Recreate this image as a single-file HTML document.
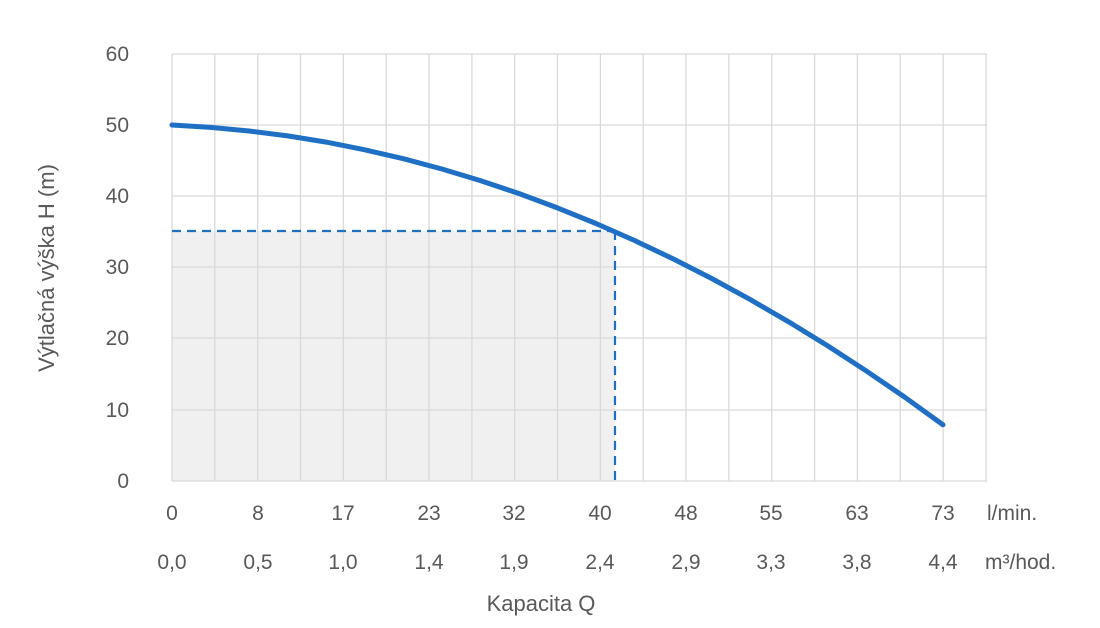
<!DOCTYPE html>
<html><head><meta charset="utf-8"><style>
body{margin:0;background:#fff;}
svg text{font-family:"Liberation Sans",sans-serif;fill:#595959;}
</style></head><body>
<svg width="1100" height="623" xmlns="http://www.w3.org/2000/svg">
<rect x="172" y="231" width="443" height="250" fill="#f0f0f0"/>
<g stroke="#d9d9d9" stroke-width="1.3">
<line x1="172" y1="54" x2="987" y2="54"/>
<line x1="172" y1="125" x2="987" y2="125"/>
<line x1="172" y1="196" x2="987" y2="196"/>
<line x1="172" y1="267" x2="987" y2="267"/>
<line x1="172" y1="338" x2="987" y2="338"/>
<line x1="172" y1="410" x2="987" y2="410"/>
<line x1="172" y1="481" x2="987" y2="481"/>
<line x1="172" y1="54" x2="172" y2="481"/><line x1="214.8" y1="54" x2="214.8" y2="481"/><line x1="257.7" y1="54" x2="257.7" y2="481"/><line x1="300.5" y1="54" x2="300.5" y2="481"/><line x1="343.4" y1="54" x2="343.4" y2="481"/><line x1="386.2" y1="54" x2="386.2" y2="481"/><line x1="429" y1="54" x2="429" y2="481"/><line x1="471.9" y1="54" x2="471.9" y2="481"/><line x1="514.7" y1="54" x2="514.7" y2="481"/><line x1="557.5" y1="54" x2="557.5" y2="481"/><line x1="600.4" y1="54" x2="600.4" y2="481"/><line x1="643.2" y1="54" x2="643.2" y2="481"/><line x1="686" y1="54" x2="686" y2="481"/><line x1="728.9" y1="54" x2="728.9" y2="481"/><line x1="771.7" y1="54" x2="771.7" y2="481"/><line x1="814.6" y1="54" x2="814.6" y2="481"/><line x1="857.4" y1="54" x2="857.4" y2="481"/><line x1="900.2" y1="54" x2="900.2" y2="481"/><line x1="943.1" y1="54" x2="943.1" y2="481"/><line x1="986" y1="54" x2="986" y2="481"/>
</g>
<g stroke="#1f6fc5" stroke-width="2.2" stroke-dasharray="9,6" fill="none">
<line x1="172" y1="231" x2="615" y2="231"/>
<line x1="615" y1="231" x2="615" y2="481"/>
</g>
<polyline fill="none" stroke="#1f6fc5" stroke-width="5" stroke-linecap="round" stroke-linejoin="round"
points="172,125 210.6,127.4 249.1,131 287.7,135.9 326.2,142.1 364.8,149.8 403.3,158.7 441.9,169 480.4,180.6 518.9,193.5 557.5,207.9 596,223.5 634.6,240.5 673.2,258.9 711.7,278.5 750.3,299.6 788.8,321.9 827.4,345.6 865.9,370.7 904.5,397 943,424.8"/>
<g font-size="21" text-anchor="end">
<text x="129" y="61">60</text><text x="129" y="132">50</text><text x="129" y="203">40</text><text x="129" y="274">30</text><text x="129" y="345">20</text><text x="129" y="417">10</text><text x="129" y="488">0</text>
</g>
<g font-size="21" text-anchor="middle">
<text x="172" y="520">0</text><text x="258" y="520">8</text><text x="343" y="520">17</text><text x="429" y="520">23</text><text x="514" y="520">32</text><text x="600" y="520">40</text><text x="686" y="520">48</text><text x="771" y="520">55</text><text x="857" y="520">63</text><text x="943" y="520">73</text>
<text x="172" y="569">0,0</text><text x="258" y="569">0,5</text><text x="343" y="569">1,0</text><text x="429" y="569">1,4</text><text x="514" y="569">1,9</text><text x="600" y="569">2,4</text><text x="686" y="569">2,9</text><text x="771" y="569">3,3</text><text x="857" y="569">3,8</text><text x="943" y="569">4,4</text>
<text x="541" y="611" font-size="22">Kapacita Q</text>
<text transform="translate(54,268) rotate(-90)" font-size="22">Výtlačná výška H (m)</text>
</g>
<g font-size="21">
<text x="987" y="520">l/min.</text>
<text x="985" y="569">m³/hod.</text>
</g>
</svg>
</body></html>
